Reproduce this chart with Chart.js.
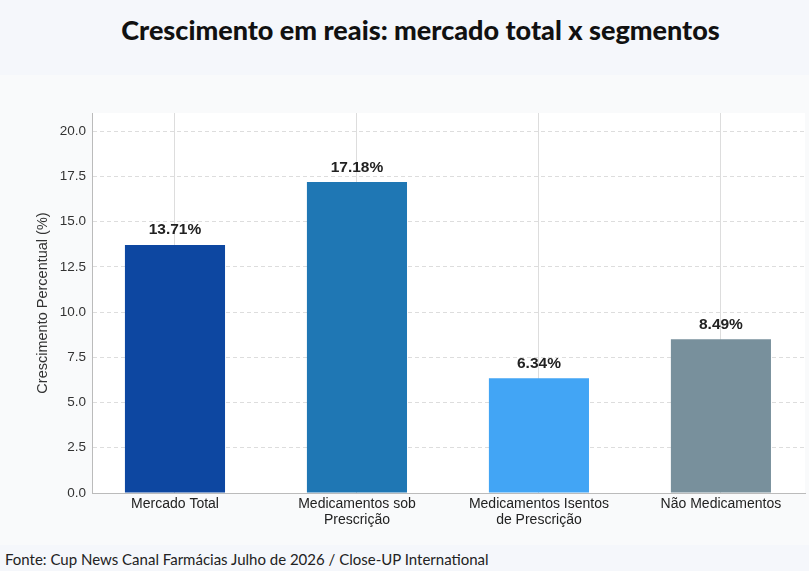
<!DOCTYPE html>
<html>
<head>
<meta charset="utf-8">
<script src="https://cdn.jsdelivr.net/npm/chart.js@4.4.1/dist/chart.umd.min.js"></script>
<style>
  html, body { margin: 0; padding: 0; }
  body { width: 809px; height: 571px; background: #f5f7fb; position: relative; overflow: hidden; }
  h1 { position: absolute; top: 13px; left: 16px; width: 809px; margin: 0; text-align: center;
       font-family: Lato, "Noto Sans", sans-serif; font-weight: 900; font-size: 27px; color: #111; }
  .card { position: absolute; top: 75px; left: 0; width: 809px; height: 470px; background: #f9fafb; }
  .card canvas { display: block; }
  .source { position: absolute; top: 550px; left: 5px; font-family: Lato, "Noto Sans", sans-serif;
            font-size: 15px; color: #222; }
</style>
</head>
<body>
<h1>Crescimento em reais: mercado total x segmentos</h1>
<div class="card"><canvas id="myChart" width="809" height="470"></canvas></div>
<div class="source">Fonte: Cup News Canal Farmácias Julho de 2026 / Close-UP International</div>
<script>
const categories = [
    ['Mercado Total'],
    ['Medicamentos sob', 'Prescrição'],
    ['Medicamentos Isentos', 'de Prescrição'],
    ['Não Medicamentos']
];
const growth = [13.71, 17.18, 6.34, 8.49];
const barColors = ['#0d47a1', '#1f77b4', '#42a5f5', '#78909c'];
const yTicks = [0, 2.5, 5, 7.5, 10, 12.5, 15, 17.5, 20];

// white plot background
const plotBackground = {
    id: 'plotBackground',
    beforeDraw(chart) {
        const { ctx, chartArea } = chart;
        ctx.save();
        ctx.fillStyle = '#ffffff';
        ctx.fillRect(chartArea.left, chartArea.top, chartArea.right - chartArea.left, chartArea.bottom - chartArea.top);
        ctx.restore();
    }
};

// value labels above bars
const valueLabels = {
    id: 'valueLabels',
    afterDatasetsDraw(chart) {
        const ctx = chart.ctx;
        const meta = chart.getDatasetMeta(0);
        ctx.save();
        ctx.font = 'bold 15.5px "Liberation Sans", Arial, sans-serif';
        ctx.fillStyle = '#222';
        ctx.textAlign = 'center';
        ctx.textBaseline = 'bottom';
        meta.data.forEach(function(bar, i) {
            ctx.fillText(growth[i].toFixed(2) + '%', bar.x, bar.y - 7);
        });
        ctx.restore();
    }
};

const ctx = document.getElementById('myChart').getContext('2d');
new Chart(ctx, {
    type: 'bar',
    data: {
        datasets: [{
            data: growth.map((v, i) => ({ x: i, y: v })),
            backgroundColor: barColors,
            barPercentage: 0.55,
            categoryPercentage: 1.0
        }]
    },
    options: {
        responsive: false,
        animation: false,
        layout: { padding: { top: 38, right: 4, left: 34, bottom: 0 } },
        plugins: {
            legend: { display: false },
            tooltip: { enabled: false }
        },
        scales: {
            x: {
                type: 'linear',
                offset: false,
                min: -0.456,
                max: 3.462,
                afterBuildTicks(scale) { scale.ticks = categories.map((c, i) => ({ value: i })); },
                grid: { offset: false, color: '#dddddd', lineWidth: 1, drawTicks: false },
                border: { color: '#bbbbbb' },
                ticks: {
                    color: '#222',
                    padding: 3,
                    maxRotation: 0,
                    autoSkip: false,
                    font: { family: '"Liberation Sans", Arial, sans-serif', size: 14, lineHeight: 1.15 },
                    callback: v => categories[v]
                },
                afterFit(scale) { scale.height = 52; }
            },
            y: {
                min: 0,
                max: 21,
                afterBuildTicks(scale) { scale.ticks = yTicks.map(v => ({ value: v })); },
                grid: { color: '#dddddd', lineWidth: 1, drawTicks: false },
                border: { color: '#bbbbbb', dash: [4, 3] },
                ticks: {
                    color: '#333',
                    padding: 6,
                    font: { family: '"Liberation Sans", Arial, sans-serif', size: 13.5 },
                    callback: v => Number(v).toFixed(1)
                },
                title: {
                    display: true,
                    text: 'Crescimento Percentual (%)',
                    color: '#333',
                    padding: { top: 0, bottom: 0 },
                    font: { family: '"Liberation Sans", Arial, sans-serif', size: 14.5 }
                },
                afterFit(scale) { scale.width = 58; }
            }
        }
    },
    plugins: [plotBackground, valueLabels]
});
</script>
</body>
</html>
